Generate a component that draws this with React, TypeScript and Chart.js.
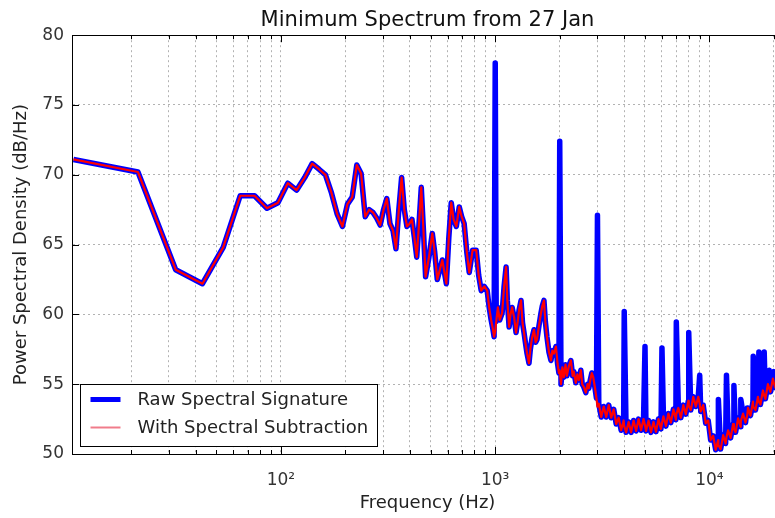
import React, { useEffect, useRef } from "react";
import { Chart, registerables } from "chart.js";

Chart.register(...registerables);

const titleText = "Minimum Spectrum from 27 Jan";
const xAxisTitle = "Frequency (Hz)";
const yAxisTitle = "Power Spectral Density (dB/Hz)";
const seriesNames = ["Raw Spectral Signature", "With Spectral Subtraction"];

const xMinHz = 10.6;
const xMaxHz = 22050;
const yMinDb = 50;
const yMaxDb = 80;
const yStepDb = 5;

// Frequencies (Hz) of the plotted points
const freqHz = [
  10.77, 21.53, 32.3, 43.06, 53.83, 64.6, 75.36, 86.13, 96.9, 107.7, 118.4, 129.2, 140.0, 150.7, 161.5, 172.3,
  183.0, 193.8, 204.6, 215.3, 226.1, 236.9, 247.6, 258.4, 269.2, 279.9, 290.7, 301.5, 312.2, 323.0, 333.8, 344.5,
  355.3, 366.1, 376.8, 387.6, 398.4, 409.1, 419.9, 430.7, 441.4, 452.2, 463.0, 473.7,
  490, 509, 522, 537, 552, 567, 580, 592, 608, 624, 640, 659, 680, 698, 717, 737, 757, 785, 816, 838, 861, 890,
  918, 938, 958, 975, 989, 1001,
  1012, 1030, 1050, 1078, 1101, 1125, 1140, 1162, 1180, 1200, 1226, 1252, 1275, 1293, 1321, 1342, 1364, 1390,
  1409, 1439, 1460, 1486, 1519, 1545, 1568, 1602, 1637, 1660, 1690, 1715, 1745, 1783, 1822, 1850, 1881, 1922,
  1955, 1985, 2002,
  2030, 2060, 2094, 2130, 2162, 2209, 2257, 2300, 2330, 2380, 2420, 2458, 2512, 2550, 2594, 2650, 2700, 2736,
  2780, 2826, 2870, 2920, 2970, 3003,
  3046, 3128, 3213, 3300, 3390, 3482, 3576, 3673, 3772, 3874, 3979, 4004, 4087, 4198, 4311, 4428, 4548, 4671,
  4798, 4928, 5005, 5061, 5198, 5339, 5484, 5632, 5785, 5941, 6006, 6102, 6268, 6437, 6612, 6791, 6975, 7007,
  7164, 7358, 7557, 7762, 7972, 8008, 8188, 8410, 8638, 8872, 9009, 9112, 9359, 9612, 9873, 10140, 10415, 10697,
  10987, 11011, 11284, 11590, 11904, 12012, 12226, 12557, 12898, 13013, 13247, 13606, 13974, 14014, 14353,
  14741, 15015, 15141, 15551, 15972, 16016, 16405, 16849, 17017, 17305, 17774, 18018, 18255, 18750, 19019,
  19258, 19779, 20020, 20315, 20865, 21021, 21430, 22050,
];

// Spectrum after spectral subtraction (dB/Hz)
const subtractedDb = [
  71.1, 70.2, 63.2, 62.2, 64.8, 68.5, 68.5, 67.6, 68.0, 69.4, 68.9, 69.8, 70.8, 70.4, 70.0, 68.7,
  67.2, 66.3, 67.9, 68.4, 70.7, 70.1, 67.0, 67.5, 67.3, 66.9, 66.4, 67.5, 68.3, 66.5, 66.0, 64.7,
  67.5, 69.8, 67.5, 66.3, 66.5, 66.8, 65.5, 64.1, 66.5, 69.1, 66.0, 62.7,
  64.0, 65.8, 64.5, 62.5, 63.2, 63.9, 63.0, 62.2, 65.5, 68.0, 66.8, 66.3, 67.7, 67.0, 66.5, 64.5, 63.0, 64.6,
  64.6, 62.8, 61.7, 62.0, 61.7, 60.5, 59.6, 59.0, 58.4, 58.8,
  59.5, 60.5, 59.6, 60.1, 62.0, 63.4, 61.0, 59.1, 60.0, 60.5, 59.8, 58.7, 59.5, 60.3, 61.0, 59.4, 58.7, 57.8,
  57.2, 56.5, 57.5, 58.3, 58.9, 58.0, 58.2, 59.2, 60.1, 60.6, 61.0, 59.5, 58.4, 57.3, 56.7, 57.4, 57.2, 57.7,
  56.5, 55.8, 56.0,
  55.0, 56.2, 55.5, 56.4, 55.6, 56.3, 56.7, 55.6, 55.9, 55.1, 55.7, 55.3, 56.0, 55.0, 54.8, 54.4, 55.0, 54.7,
  55.3, 55.8, 55.5, 54.8, 54.0, 53.4,
  53.6, 52.65, 53.4, 52.65, 53.5, 52.6, 53.2, 52.15, 52.6, 51.7, 52.4, 52.0, 51.55, 52.3, 51.55, 52.4, 51.65, 52.5,
  51.7, 52.5, 52.05, 51.65, 52.4, 51.55, 52.3, 51.6, 52.5, 51.8, 52.2, 52.7, 52.0, 52.9, 52.25, 53.2, 52.45, 52.85,
  53.3, 52.6, 53.5, 52.85, 53.8, 53.45, 53.15, 54.1, 53.4, 54.1, 53.6, 53.05, 53.5, 52.2, 52.4, 51.0, 51.3, 50.3,
  51.0, 50.65, 50.35, 51.35, 50.75, 51.2, 51.7, 51.15, 52.15, 51.8, 51.55, 52.55, 51.95, 52.35, 52.9,
  52.25, 52.75, 53.3, 52.75, 53.75, 53.4, 53.15, 54.1, 53.75, 53.55, 54.55, 54.2, 53.95, 55.0, 54.7,
  54.45, 55.4, 55.05, 54.75, 55.7, 55.35, 55.0, 55.9,
];

// Tonal harmonics present only in the raw signature
const harmonicHz = [1001, 2002, 3003, 4004, 5005, 6006, 7007, 8008, 9009, 11011, 12012, 13013, 14014, 15015, 16016, 17017, 18018, 19019, 20020, 21021];
const harmonicPeakDb = [78.0, 72.4, 67.1, 60.2, 57.7, 57.6, 59.45, 58.7, 55.65, 53.9, 55.65, 54.9, 53.9, 53.3, 57.0, 57.3, 57.3, 56.0, 55.9, 55.8];

const rawDb = freqHz.map((f, i) => {
  const h = harmonicHz.indexOf(f);
  return h >= 0 ? harmonicPeakDb[h] : subtractedDb[i];
});

const FONT = "'DejaVu Sans', 'Liberation Sans', sans-serif";
const SUP: Record<number, string> = { 0: "⁰", 1: "¹", 2: "²", 3: "³", 4: "⁴", 5: "⁵" };

const framePlugin = {
  id: "frameAndLegend",
  afterDraw(chart: any) {
    const { ctx, chartArea } = chart;
    const { left, top, right, bottom } = chartArea;
    ctx.save();
    ctx.strokeStyle = "#000";
    ctx.lineWidth = 1;
    const xs = chart.scales.x;
    xs.ticks.forEach((t: any) => {
      const px = Math.round(xs.getPixelForValue(t.value)) + 0.5;
      const lg = Math.log10(t.value);
      const len = Math.abs(lg - Math.round(lg)) < 1e-9 ? 7 : 4;
      ctx.beginPath();
      ctx.moveTo(px, bottom);
      ctx.lineTo(px, bottom - len);
      ctx.moveTo(px, top);
      ctx.lineTo(px, top + len);
      ctx.stroke();
    });
    const ys = chart.scales.y;
    ys.ticks.forEach((t: any) => {
      const py = Math.round(ys.getPixelForValue(t.value)) + 0.5;
      ctx.beginPath();
      ctx.moveTo(left, py);
      ctx.lineTo(left + 7, py);
      ctx.moveTo(right, py);
      ctx.lineTo(right - 7, py);
      ctx.stroke();
    });
    ctx.strokeRect(Math.round(left) + 0.5, Math.round(top) + 0.5, Math.round(right - left), Math.round(bottom - top));

    const bx = Math.round(left) + 8.5;
    const by = Math.round(bottom) - 69.5;
    const bw = 297;
    const bh = 62;
    ctx.fillStyle = "#ffffff";
    ctx.fillRect(bx, by, bw, bh);
    ctx.strokeStyle = "#000";
    ctx.lineWidth = 1;
    ctx.strokeRect(bx, by, bw, bh);
    const items = [
      { label: seriesNames[0], color: "#0000ff", width: 5 },
      { label: seriesNames[1], color: "rgba(235,80,100,0.75)", width: 2 },
    ];
    ctx.font = `18px ${FONT}`;
    ctx.textBaseline = "middle";
    ctx.textAlign = "left";
    items.forEach((it, i) => {
      const cy = by + 15 + i * 28;
      ctx.strokeStyle = it.color;
      ctx.lineWidth = it.width;
      ctx.beginPath();
      ctx.moveTo(bx + 10, cy);
      ctx.lineTo(bx + 40, cy);
      ctx.stroke();
      ctx.fillStyle = "#222";
      ctx.fillText(it.label, bx + 57, cy + 1);
    });
    ctx.restore();
  },
};

export default function App() {
  const ref = useRef<HTMLCanvasElement | null>(null);
  useEffect(() => {
    document.body.style.margin = "0";
    document.body.style.overflow = "hidden";
    const canvas = ref.current;
    if (!canvas) return;
    const chart = new Chart(canvas, {
      type: "line",
      data: {
        datasets: [
          {
            label: seriesNames[1],
            data: freqHz.map((f, i) => ({ x: f, y: subtractedDb[i] })),
            borderColor: "#ff0000",
            borderWidth: 2.2,
            pointRadius: 0,
            tension: 0,
            borderJoinStyle: "round",
            order: 1,
          },
          {
            label: seriesNames[0],
            data: freqHz.map((f, i) => ({ x: f, y: rawDb[i] })),
            borderColor: "#0000ff",
            borderWidth: 5.5,
            pointRadius: 0,
            tension: 0,
            borderJoinStyle: "round",
            order: 2,
          },
        ],
      },
      options: {
        responsive: false,
        animation: false,
        devicePixelRatio: 1,
        layout: { padding: { left: 0, right: 4.6, top: 0, bottom: 0 } },
        plugins: {
          legend: { display: false },
          tooltip: { enabled: false },
          title: {
            display: true,
            text: titleText,
            fullSize: false,
            color: "#111",
            font: { family: FONT, size: 21, weight: "normal" },
            padding: { top: 8, bottom: 2 },
          },
        },
        scales: {
          x: {
            type: "logarithmic",
            min: xMinHz,
            max: xMaxHz,
            afterFit: (s: any) => {
              s.height = 64;
            },
            afterBuildTicks: (s: any) => {
              const ticks: any[] = [];
              for (let d = 1; d <= 10000; d *= 10) {
                for (let m = 1; m <= 9; m++) {
                  const v = m * d;
                  if (v > xMinHz && v < xMaxHz) ticks.push({ value: v });
                }
              }
              s.ticks = ticks;
            },
            ticks: {
              autoSkip: false,
              maxRotation: 0,
              padding: 16,
              color: "#333",
              font: { family: FONT, size: 17 },
              callback: (v: any) => {
                const lg = Math.log10(Number(v));
                const r = Math.round(lg);
                return Math.abs(lg - r) < 1e-9 ? "10" + SUP[r] : "";
              },
            },
            grid: { color: "rgba(0,0,0,0.3)", lineWidth: 1, drawTicks: false },
            border: { display: true, color: "#000", width: 1, dash: [2, 3] },
            title: {
              display: true,
              text: xAxisTitle,
              color: "#222",
              font: { family: FONT, size: 18 },
              padding: { top: 0, bottom: 4 },
            },
          },
          y: {
            type: "linear",
            min: yMinDb,
            max: yMaxDb,
            afterFit: (s: any) => {
              s.width = 72;
            },
            ticks: {
              stepSize: yStepDb,
              padding: 8,
              color: "#333",
              font: { family: FONT, size: 17 },
            },
            grid: { color: "rgba(0,0,0,0.3)", lineWidth: 1, drawTicks: false },
            border: { display: true, color: "#000", width: 1, dash: [2, 3] },
            title: {
              display: true,
              text: yAxisTitle,
              color: "#222",
              font: { family: FONT, size: 18 },
              padding: { top: 11, bottom: 0 },
            },
          },
        },
      },
      plugins: [framePlugin],
    } as any);
    return () => chart.destroy();
  }, []);
  return (
    <div style={{ width: 775, height: 518, overflow: "hidden", position: "relative", background: "#fff" }}>
      <canvas ref={ref} width={790} height={518} style={{ display: "block", width: 790, height: 518 }} />
    </div>
  );
}
